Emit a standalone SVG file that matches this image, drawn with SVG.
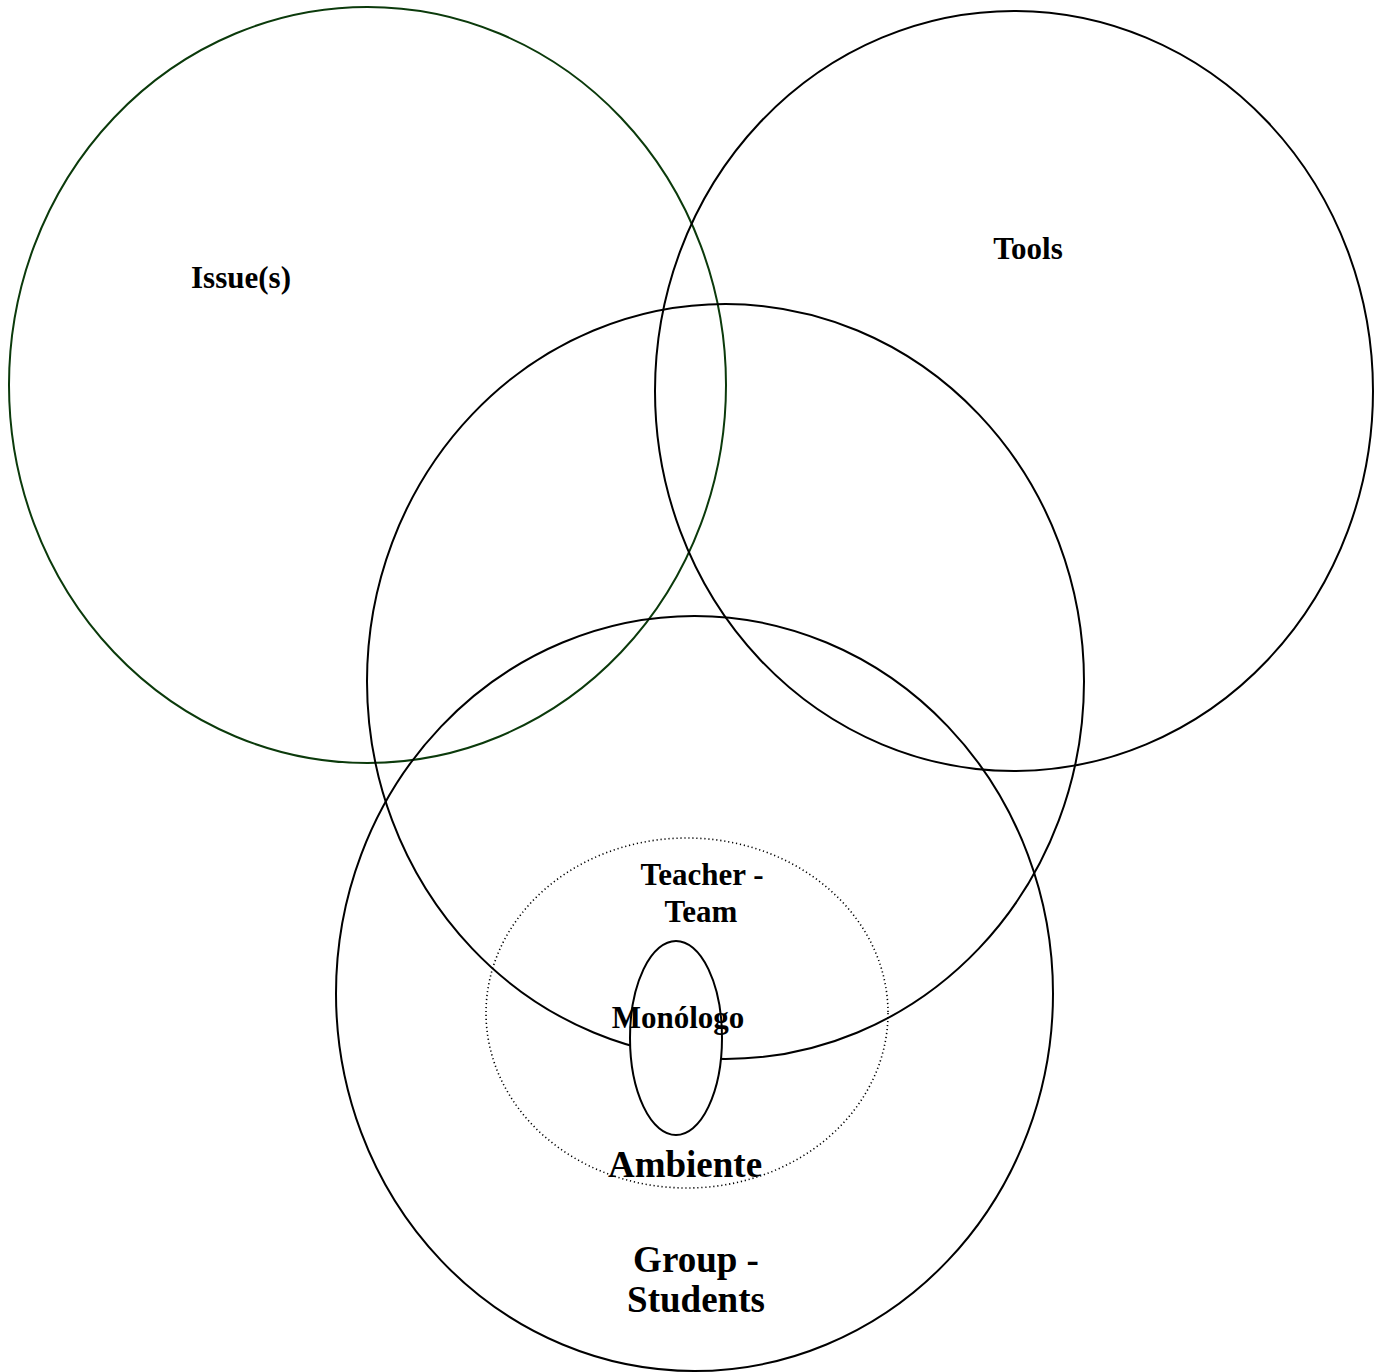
<svg xmlns="http://www.w3.org/2000/svg" width="1382" height="1372" viewBox="0 0 1382 1372">
<style>
.c{fill:none;stroke:#000;stroke-width:2}
.g{fill:none;stroke:#0b3a0b;stroke-width:2}
.d{fill:none;stroke:#000;stroke-width:1.6;stroke-dasharray:1.2 2.8}
.w{fill:#fff;stroke:#000;stroke-width:2}
.t{font-family:"Liberation Serif","Times New Roman",serif;font-weight:bold;fill:#000;text-anchor:middle}
.s{font-size:31px}
.l{font-size:37px}
</style>
<rect width="1382" height="1372" fill="#fff"/>
<g id="issues">
<ellipse class="g" cx="367.5" cy="385" rx="358.5" ry="378"/>
<text class="t s" x="241" y="288">Issue(s)</text>
</g>
<g id="tools">
<ellipse class="c" cx="1014" cy="391" rx="359" ry="380"/>
<text class="t s" x="1028" y="259">Tools</text>
</g>
<g id="middle">
<ellipse class="c" cx="725.5" cy="681.5" rx="358.5" ry="377.5"/>
</g>
<g id="group-students">
<ellipse class="c" cx="694.5" cy="993.5" rx="358.5" ry="377.5"/>
<text class="t l" x="696" y="1272">Group -</text>
<text class="t l" x="696" y="1312">Students</text>
</g>
<g id="ambiente">
<ellipse class="d" cx="687" cy="1013" rx="201" ry="175"/>
<text class="t l" x="685" y="1177">Ambiente</text>
</g>
<g id="teacher-team">
<text class="t s" x="702" y="885">Teacher -</text>
<text class="t s" x="701" y="922">Team</text>
</g>
<g id="monologo">
<ellipse class="w" cx="676" cy="1038" rx="46" ry="97"/>
<text class="t s" x="678" y="1028">Monólogo</text>
</g>
<g id="connectors"></g>
</svg>
